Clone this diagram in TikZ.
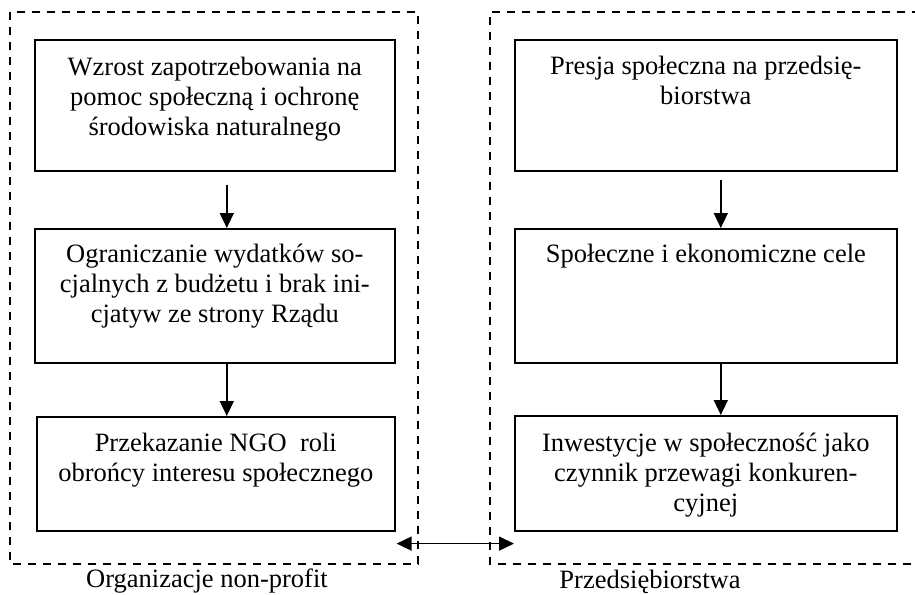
\documentclass[tikz,border=0pt]{standalone}
\usepackage{fontspec}
\setmainfont{Liberation Serif}
\usetikzlibrary{arrows.meta,calc}
\begin{document}
\begin{tikzpicture}[x=1pt,y=-1pt,
  stepbox/.style={draw, line width=1.6pt, inner sep=0pt, anchor=north west},
  txt/.style={anchor=north, inner sep=0pt, align=center, font=\fontsize{26.5}{30}\selectfont},
  lbl/.style={anchor=base, inner sep=0pt, font=\fontsize{26.5}{30}\selectfont},
  frame/.style={dashed, dash pattern=on 8pt off 7pt, line width=1.5pt},
  arr/.style={-{Triangle[length=15pt,width=14pt]}, line width=1.6pt},
  biarr/.style={{Triangle[length=15pt,width=14pt]}-{Triangle[length=15pt,width=14pt]}, line width=1.6pt}]
\useasboundingbox (0,0) rectangle (915,594);
% frames
\draw[frame] (10,12) rectangle (418,564);
\draw[frame] (935,12) -- (490,12) -- (490,564) -- (935,564);
% left boxes
\node[stepbox, minimum width=360pt, minimum height=131pt] (l1) at (34,39) {};
\node[stepbox, minimum width=360pt, minimum height=134pt] (l2) at (34,228) {};
\node[stepbox, minimum width=358pt, minimum height=114pt] (l3) at (36,416) {};
% right boxes
\node[stepbox, minimum width=382pt, minimum height=131pt] (r1) at (514,39) {};
\node[stepbox, minimum width=382pt, minimum height=134pt] (r2) at (514,228) {};
\node[stepbox, minimum width=382pt, minimum height=115pt] (r3) at (514,415) {};
% texts
\node[txt] (tl1) at ($(l1.north)+(0,16)$) {\rule{0pt}{20pt}Wzrost zapotrzebowania na\\pomoc społeczną i ochronę\\środowiska naturalnego};
\node[txt] (tl2) at ($(l2.north)+(0,14)$) {\rule{0pt}{20pt}Ograniczanie wydatków so-\\cjalnych z budżetu i brak ini-\\cjatyw ze strony Rządu};
\node[txt] (tl3) at ($(l3.north)+(0,15)$) {\rule{0pt}{20pt}Przekazanie NGO\ \ roli\\obrońcy interesu społecznego};
\node[txt] (tr1) at ($(r1.north)+(0,15)$) {\rule{0pt}{20pt}Presja społeczna na przedsię-\\biorstwa};
\node[txt] (tr2) at ($(r2.north)+(0,14)$) {\rule{0pt}{20pt}Społeczne i ekonomiczne cele};
\node[txt] (tr3) at ($(r3.north)+(0,16)$) {\rule{0pt}{20pt}Inwestycje w społeczność jako\\czynnik przewagi konkuren-\\cyjnej};
% arrows
\coordinate (a1s) at ($(l1.south)+(12,13)$);
\coordinate (a2s) at ($(r1.south)+(15,8)$);
\draw[arr] (a1s) -- (a1s |- l2.north);
\draw[arr] (l2.south -| a1s) -- (l3.north -| a1s);
\draw[arr] (a2s) -- (a2s |- r2.north);
\draw[arr] (r2.south -| a2s) -- (r3.north -| a2s);
\coordinate (bl) at ($(l3.south east)+(1,12)$);
\coordinate (br) at ($(r3.south west)+(0,12)$);
\draw[biarr] (bl) -- (br |- bl);
% labels
\node[lbl] (lab1) at (207,587) {Organizacje non-profit};
\node[lbl] (lab2) at (650,588) {Przedsiębiorstwa};
\end{tikzpicture}
\end{document}
